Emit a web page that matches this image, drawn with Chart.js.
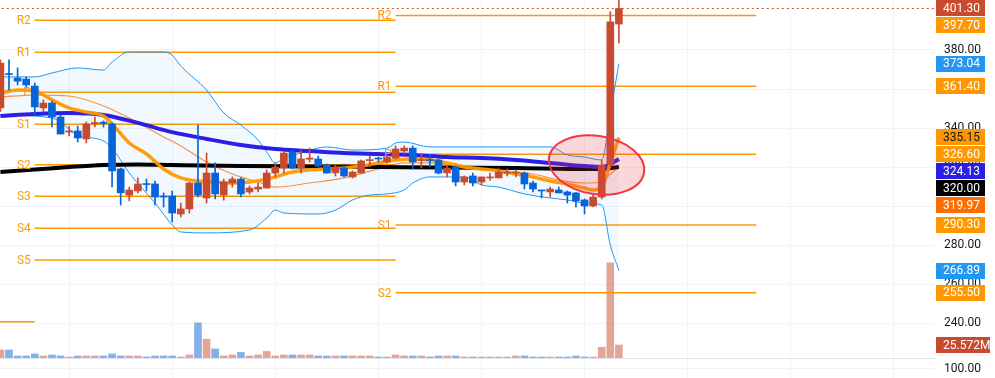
<!DOCTYPE html>
<html>
<head>
<meta charset="utf-8">
<script src="https://cdn.jsdelivr.net/npm/chart.js@4.4.0/dist/chart.umd.min.js"></script>
<style>
  html, body { margin: 0; padding: 0; background: #fff; }
  canvas { display: block; }
</style>
</head>
<body>
<canvas id="chart" width="995" height="378"></canvas>
<script>
// candles, index 0 = leftmost bar on screen
const opens = [350.3,367.8,365.6,365.1,361.5,350.3,352.8,345.6,337.9,338.5,
  334.4,342.1,343.0,342.1,319.0,305.6,307.7,311.5,311.3,305.0,
  305.1,295.9,298.5,311.8,304.1,316.9,305.6,311.8,313.8,307.2,
  308.7,309.2,316.9,319.5,327.7,319.5,324.0,324.1,321.0,317.0,
  319.5,314.9,316.9,323.3,324.3,322.6,324.6,328.2,329.7,323.3,
  323.8,323.6,317.0,320.0,312.3,315.4,312.3,314.4,314.4,316.9,
  316.9,316.9,311.8,307.9,307.2,308.2,307.2,306.7,303.1,300.0,
  304.6,321.5,393.3];
const highs = [375.0,374.9,370.8,366.2,363.1,354.4,353.8,346.7,341.0,341.0,
  343.1,345.6,343.6,342.6,319.5,309.7,314.4,313.8,312.8,306.7,
  307.7,301.5,312.3,341.5,327.2,322.1,313.8,314.9,314.4,310.3,
  311.8,318.5,322.1,327.7,328.7,328.7,329.7,325.6,321.5,321.0,
  321.5,318.0,323.6,325.6,325.1,326.0,330.8,330.8,330.8,326.7,
  326.2,324.1,320.5,320.5,315.4,316.9,314.9,316.9,319.5,319.0,
  318.5,317.4,312.8,308.2,309.7,309.7,307.7,307.0,303.6,305.6,
  323.6,399.6,405.6];
const lows = [348.5,359.5,362.1,360.5,346.7,348.2,340.5,336.9,335.9,332.8,
  332.3,340.5,340.5,309.8,300.5,302.6,306.7,307.7,300.5,299.5,
  291.8,294.4,296.4,304.6,301.5,303.6,303.0,309.7,304.6,306.2,
  307.2,309.2,314.9,316.9,319.0,316.9,322.6,320.0,316.9,315.4,
  314.9,314.4,316.9,320.0,322.6,322.0,324.1,326.7,319.0,319.5,
  320.0,316.4,314.9,310.3,310.8,310.3,310.8,313.3,314.4,315.4,
  314.9,308.7,307.2,304.1,304.6,306.7,301.5,299.5,295.9,299.5,
  303.6,320.5,383.6];
const closes = [373.3,367.4,364.0,362.1,350.8,352.8,345.6,336.9,338.5,334.9,
  342.1,342.8,342.3,318.0,306.7,308.2,311.3,311.0,304.6,304.6,
  296.4,298.5,311.8,305.6,316.9,306.2,312.3,313.8,306.2,309.2,
  309.7,316.9,320.0,327.2,319.5,324.1,324.6,320.5,316.9,320.0,
  315.4,317.4,323.1,323.8,324.1,325.1,329.2,329.7,322.6,323.6,
  323.3,316.9,319.5,312.3,314.9,311.8,314.9,314.9,317.4,317.4,
  317.2,311.3,308.7,307.7,308.7,306.7,305.6,302.6,300.0,304.6,
  321.0,394.4,401.30];
// volume in millions
const volumes = [15.7,15.7,4,4,8,4,6,4,2,4,
  4,4,4,8,4,4,4,2,4,4,
  4,2,6,69,37,18,4,6,11,4,
  6,13,4,6,6,6,6,4,4,4,
  4,4,4,4,2,2,6,4,4,4,
  2,4,4,4,2,2,2,2,2,2,
  4,4,2,2,2,2,2,4,2,2,
  21,187,25.572];

// indicator lines, read at bar indexes
const fastAt = [0,2,4,6,8,10,12,13,15,17,19,21,23,25,27,29,31,32,34,36,38,40,42,44,46,48,50,52,54,56,58,60,62,64,66,68,69,70,71,72];
const fastVal = [357.9,359.5,359.0,354.4,350.3,348.2,346.2,342.1,332.3,326.7,319.0,314.4,312.8,312.3,311.8,312.3,313.8,314.9,317.4,318.5,319.0,319.5,320.5,322.1,323.6,324.1,323.6,322.1,320.0,319.0,318.0,316.4,314.9,312.8,311.3,309.2,308.2,309.7,322.0,335.15];
const slowAt = [0,4,8,12,16,20,24,28,32,36,40,44,48,52,56,60,64,68,70,71,72];
const slowVal = [346.2,347.2,347.7,346.7,342.6,337.9,334.4,331.3,329.2,328.2,327.2,326.7,326.2,325.1,324.6,323.6,322.1,320.5,320.0,321.5,324.13];
const longAt = [0,4,8,12,16,20,28,36,44,52,60,68,70,72];
const longVal = [317.4,318.7,320.0,321.0,321.3,321.0,320.5,320.3,320.0,319.7,319.5,319.0,319.0,320.00];
const bbUpAt = [0,4,6,9,12,13,15,19,20,21,24,26,28,30,31,32,33,35,38,41,45,46,47,50,58,64,66,68,70,71,72];
const bbUpVal = [366.2,366.2,368.2,370.8,369.7,373.8,379.0,379.0,377.4,371.8,359.5,347.7,341.5,333.8,327.7,322.1,324.6,327.2,330.3,328.7,329.7,332.3,332.8,330.3,330.3,330.3,326.2,325.1,323.6,347.7,373.04];
const bbLoAt = [0,6,9,12,13,15,18,20,21,24,29,31,32,33,37,39,41,43,45,47,48,50,54,56,58,61,64,66,68,70,71,72];
const bbLoVal = [346.7,345.1,336.4,333.3,329.7,316.9,301.5,290.3,286.7,286.2,287.7,293.8,297.9,296.4,295.9,297.9,303.1,305.6,306.2,308.2,311.8,314.9,314.9,310.8,309.7,306.2,304.1,303.1,301.5,300.5,280.0,266.89];
const basisAt = [0,4,8,12,15,19,21,24,27,30,32,36,40,44,47,50,54,58,62,65,68,70,71,72];
const basisVal = [355.9,356.9,356.4,351.3,345.1,335.4,330.8,322.6,316.4,312.3,309.7,311.8,314.4,319.0,322.1,322.1,319.5,318.0,316.4,313.3,311.8,312.3,316.4,319.97];

// pivot levels
const pivotNamesPrev = ['R2','R1','P','S1','S2','S3','S4','S5'];
const pivotsPrev = [395.2,378.8,358.3,341.9,321.2,305.0,288.6,272.3];
const pivotSpanPrev = [4, 46];
const pivotNamesCur = ['R2','R1','P','S1','S2'];
const pivotsCur = [397.70,361.40,326.60,290.30,255.50];
const pivotSpanCur = [46, 88];
const olderPivot = 240.7;
const olderSpan = [-6, 4];

const priceTicks = [240,260,280,300,320,340,360,380];
const timeGrid = [8,20,32,44,56,68,80,92,104];
const lowerPaneTick = 100;
const note = { x: 69.4, y: 321.0, rx: 5.6, ry: 14.9, rot: 9 };

const UP = '#c94b2f', DOWN = '#0663d9';
const UP_VOL = 'rgba(201,75,47,0.5)', DOWN_VOL = 'rgba(6,99,217,0.5)';
const PIVOT = '#ff9800', BAND = '#2196f3', BASIS = '#ff6d00', SLOW = '#2b1fe6';
const GRID = '#f0f3fa', TEXT = '#131722';

Chart.defaults.font.family = 'Roboto';
Chart.defaults.font.size = 12;

const idx = closes.map((_, i) => i);
const isUp = i => closes[i] >= opens[i];
const pts = (at, val) => at.map((x, k) => ({ x, y: val[k] }));

function line(data, color, width, order, extra) {
  return Object.assign({ type: 'line', data, borderColor: color, borderWidth: width,
    pointRadius: 0, fill: false, cubicInterpolationMode: 'monotone', order }, extra || {});
}
function level(v, span, order) {
  return { type: 'line', data: [{ x: span[0], y: v }, { x: span[1], y: v }],
    borderColor: PIVOT, borderWidth: 1.5, pointRadius: 0, fill: false, order };
}

const datasets = [
  { type: 'bar', yAxisID: 'yv', grouped: false, order: 30, barThickness: 7,
    data: idx.map(i => ({ x: i, y: volumes[i] })),
    backgroundColor: idx.map(i => isUp(i) ? UP_VOL : DOWN_VOL) },
  line(pts(bbUpAt, bbUpVal), BAND, 1, 20, { fill: '+1', backgroundColor: 'rgba(33,150,243,0.06)' }),
  line(pts(bbLoAt, bbLoVal), BAND, 1, 20),
  line(pts(basisAt, basisVal), 'rgba(255,109,0,0.75)', 1.2, 19),
  line(pts(longAt, longVal), '#000', 4, 18),
  line(pts(slowAt, slowVal), SLOW, 4, 17),
  line(pts(fastAt, fastVal), 'rgba(255,152,0,0.95)', 3.5, 16),
  { type: 'line', data: [{ x: -1, y: closes[closes.length - 1] }, { x: 120, y: closes[closes.length - 1] }],
    borderColor: UP, borderWidth: 1, borderDash: [2, 3], pointRadius: 0, order: 25 },
  level(olderPivot, olderSpan, 24),
  ...pivotsPrev.map(v => level(v, pivotSpanPrev, 24)),
  ...pivotsCur.map(v => level(v, pivotSpanCur, 24)),
  { type: 'bar', grouped: false, order: 2, barThickness: 1, minBarLength: 1,
    data: idx.map(i => ({ x: i, y: [lows[i], highs[i]] })),
    backgroundColor: idx.map(i => isUp(i) ? UP : DOWN) },
  { type: 'bar', grouped: false, order: 1, barThickness: 7, minBarLength: 1,
    data: idx.map(i => ({ x: i, y: [opens[i], closes[i]] })),
    backgroundColor: idx.map(i => isUp(i) ? UP : DOWN) }
];

const pivotLabels = {
  id: 'pivotLabels',
  afterDatasetsDraw(chart) {
    const { ctx, scales: { x, y } } = chart;
    ctx.save();
    ctx.font = '12px Roboto';
    ctx.fillStyle = PIVOT;
    ctx.textAlign = 'right';
    ctx.textBaseline = 'middle';
    [[pivotNamesPrev, pivotsPrev, pivotSpanPrev], [pivotNamesCur, pivotsCur, pivotSpanCur]].forEach(([names, vals, span]) => {
      const px = x.getPixelForValue(span[0]) - 4;
      vals.forEach((v, k) => ctx.fillText(names[k], px, y.getPixelForValue(v) + 1));
    });
    ctx.restore();
  }
};

// red ellipse drawn in data units
const notePlugin = {
  id: 'note',
  afterDatasetsDraw(chart) {
    const { ctx, scales: { x, y } } = chart;
    const cx = x.getPixelForValue(note.x), cy = y.getPixelForValue(note.y);
    const rx = x.getPixelForValue(note.x + note.rx) - cx;
    const ry = cy - y.getPixelForValue(note.y + note.ry);
    ctx.save();
    ctx.beginPath();
    ctx.ellipse(cx, cy, rx, ry, note.rot * Math.PI / 180, 0, Math.PI * 2);
    ctx.fillStyle = 'rgba(242,54,69,0.2)';
    ctx.fill();
    ctx.lineWidth = 2;
    ctx.strokeStyle = '#f23645';
    ctx.stroke();
    ctx.restore();
  }
};

const tagPlugin = {
  id: 'tags',
  afterDraw(chart) {
    const { ctx, chartArea: a, scales: { y, yv } } = chart;
    const last = arr => arr[arr.length - 1];

    // lower pane
    const paneTop = Math.round(yv.getPixelForValue(0)) + 0.5;
    ctx.save();
    ctx.lineWidth = 1;
    ctx.strokeStyle = '#e0e3eb';
    ctx.beginPath(); ctx.moveTo(0, paneTop); ctx.lineTo(a.right + 1, paneTop); ctx.stroke();
    ctx.strokeStyle = GRID;
    ctx.beginPath(); ctx.moveTo(0, paneTop + 10); ctx.lineTo(a.right, paneTop + 10); ctx.stroke();
    ctx.font = '12px Roboto';
    ctx.textBaseline = 'middle';
    ctx.textAlign = 'left';
    ctx.fillStyle = TEXT;
    ctx.fillText(lowerPaneTick.toFixed(2), a.right + 9, paneTop + 10);

    const tags = [
      [last(closes), UP, '#fff'],
      [pivotsCur[0], PIVOT, '#fff'],
      [last(bbUpVal), BAND, '#fff'],
      [pivotsCur[1], PIVOT, '#fff'],
      [last(fastVal), PIVOT, TEXT],
      [pivotsCur[2], PIVOT, '#fff'],
      [last(slowVal), SLOW, '#fff'],
      [last(longVal), '#000', '#fff'],
      [last(basisVal), BASIS, '#fff'],
      [pivotsCur[3], PIVOT, '#fff'],
      [last(bbLoVal), BAND, '#fff'],
      [pivotsCur[4], PIVOT, '#fff']
    ].map(([v, bg, fg]) => ({ v, bg, fg, py: y.getPixelForValue(v) }))
     .sort((p, q) => p.py - q.py);
    let prev = -Infinity;
    tags.forEach(t => { t.py = Math.max(t.py, prev + 17); prev = t.py; });
    tags.forEach(t => {
      ctx.fillStyle = t.bg;
      ctx.fillRect(a.right + 1, Math.round(t.py - 8), 49, 16);
      ctx.fillStyle = t.fg;
      ctx.fillText(t.v.toFixed(2), a.right + 8, t.py + 0.5);
    });

    const vy = yv.getPixelForValue(last(volumes));
    ctx.fillStyle = UP;
    ctx.fillRect(a.right + 1, Math.round(vy - 8), 54, 16);
    ctx.fillStyle = '#fff';
    ctx.fillText(last(volumes).toFixed(3) + 'M', a.right + 8, vy + 0.5);
    ctx.restore();
  }
};

new Chart(document.getElementById('chart'), {
  type: 'bar',
  data: { datasets },
  options: {
    responsive: false,
    animation: false,
    devicePixelRatio: 1,
    layout: { padding: 0 },
    plugins: { legend: { display: false }, tooltip: { enabled: false } },
    scales: {
      x: {
        type: 'linear', min: -0.047, max: 108.8, offset: false,
        grid: { color: GRID, drawTicks: false, offset: false },
        border: { display: false },
        ticks: { display: false },
        afterBuildTicks: ax => { ax.ticks = timeGrid.map(v => ({ value: v })); },
        afterFit: ax => { ax.height = 0; ax.paddingLeft = 0; ax.paddingRight = 0; }
      },
      y: {
        type: 'linear', position: 'right', min: 211.8, max: 405.64,
        grid: { color: GRID, drawTicks: false },
        border: { display: false },
        ticks: { color: TEXT, padding: 9, callback: v => v.toFixed(2) },
        afterBuildTicks: ax => { ax.ticks = priceTicks.map(v => ({ value: v })); },
        afterFit: ax => { ax.width = 60; ax.paddingTop = 0; ax.paddingBottom = 0; }
      },
      yv: {
        type: 'linear', display: false, min: -39.3, max: 704.2,
        grid: { display: false }
      }
    }
  },
  plugins: [pivotLabels, notePlugin, tagPlugin]
});
</script>
</body>
</html>
